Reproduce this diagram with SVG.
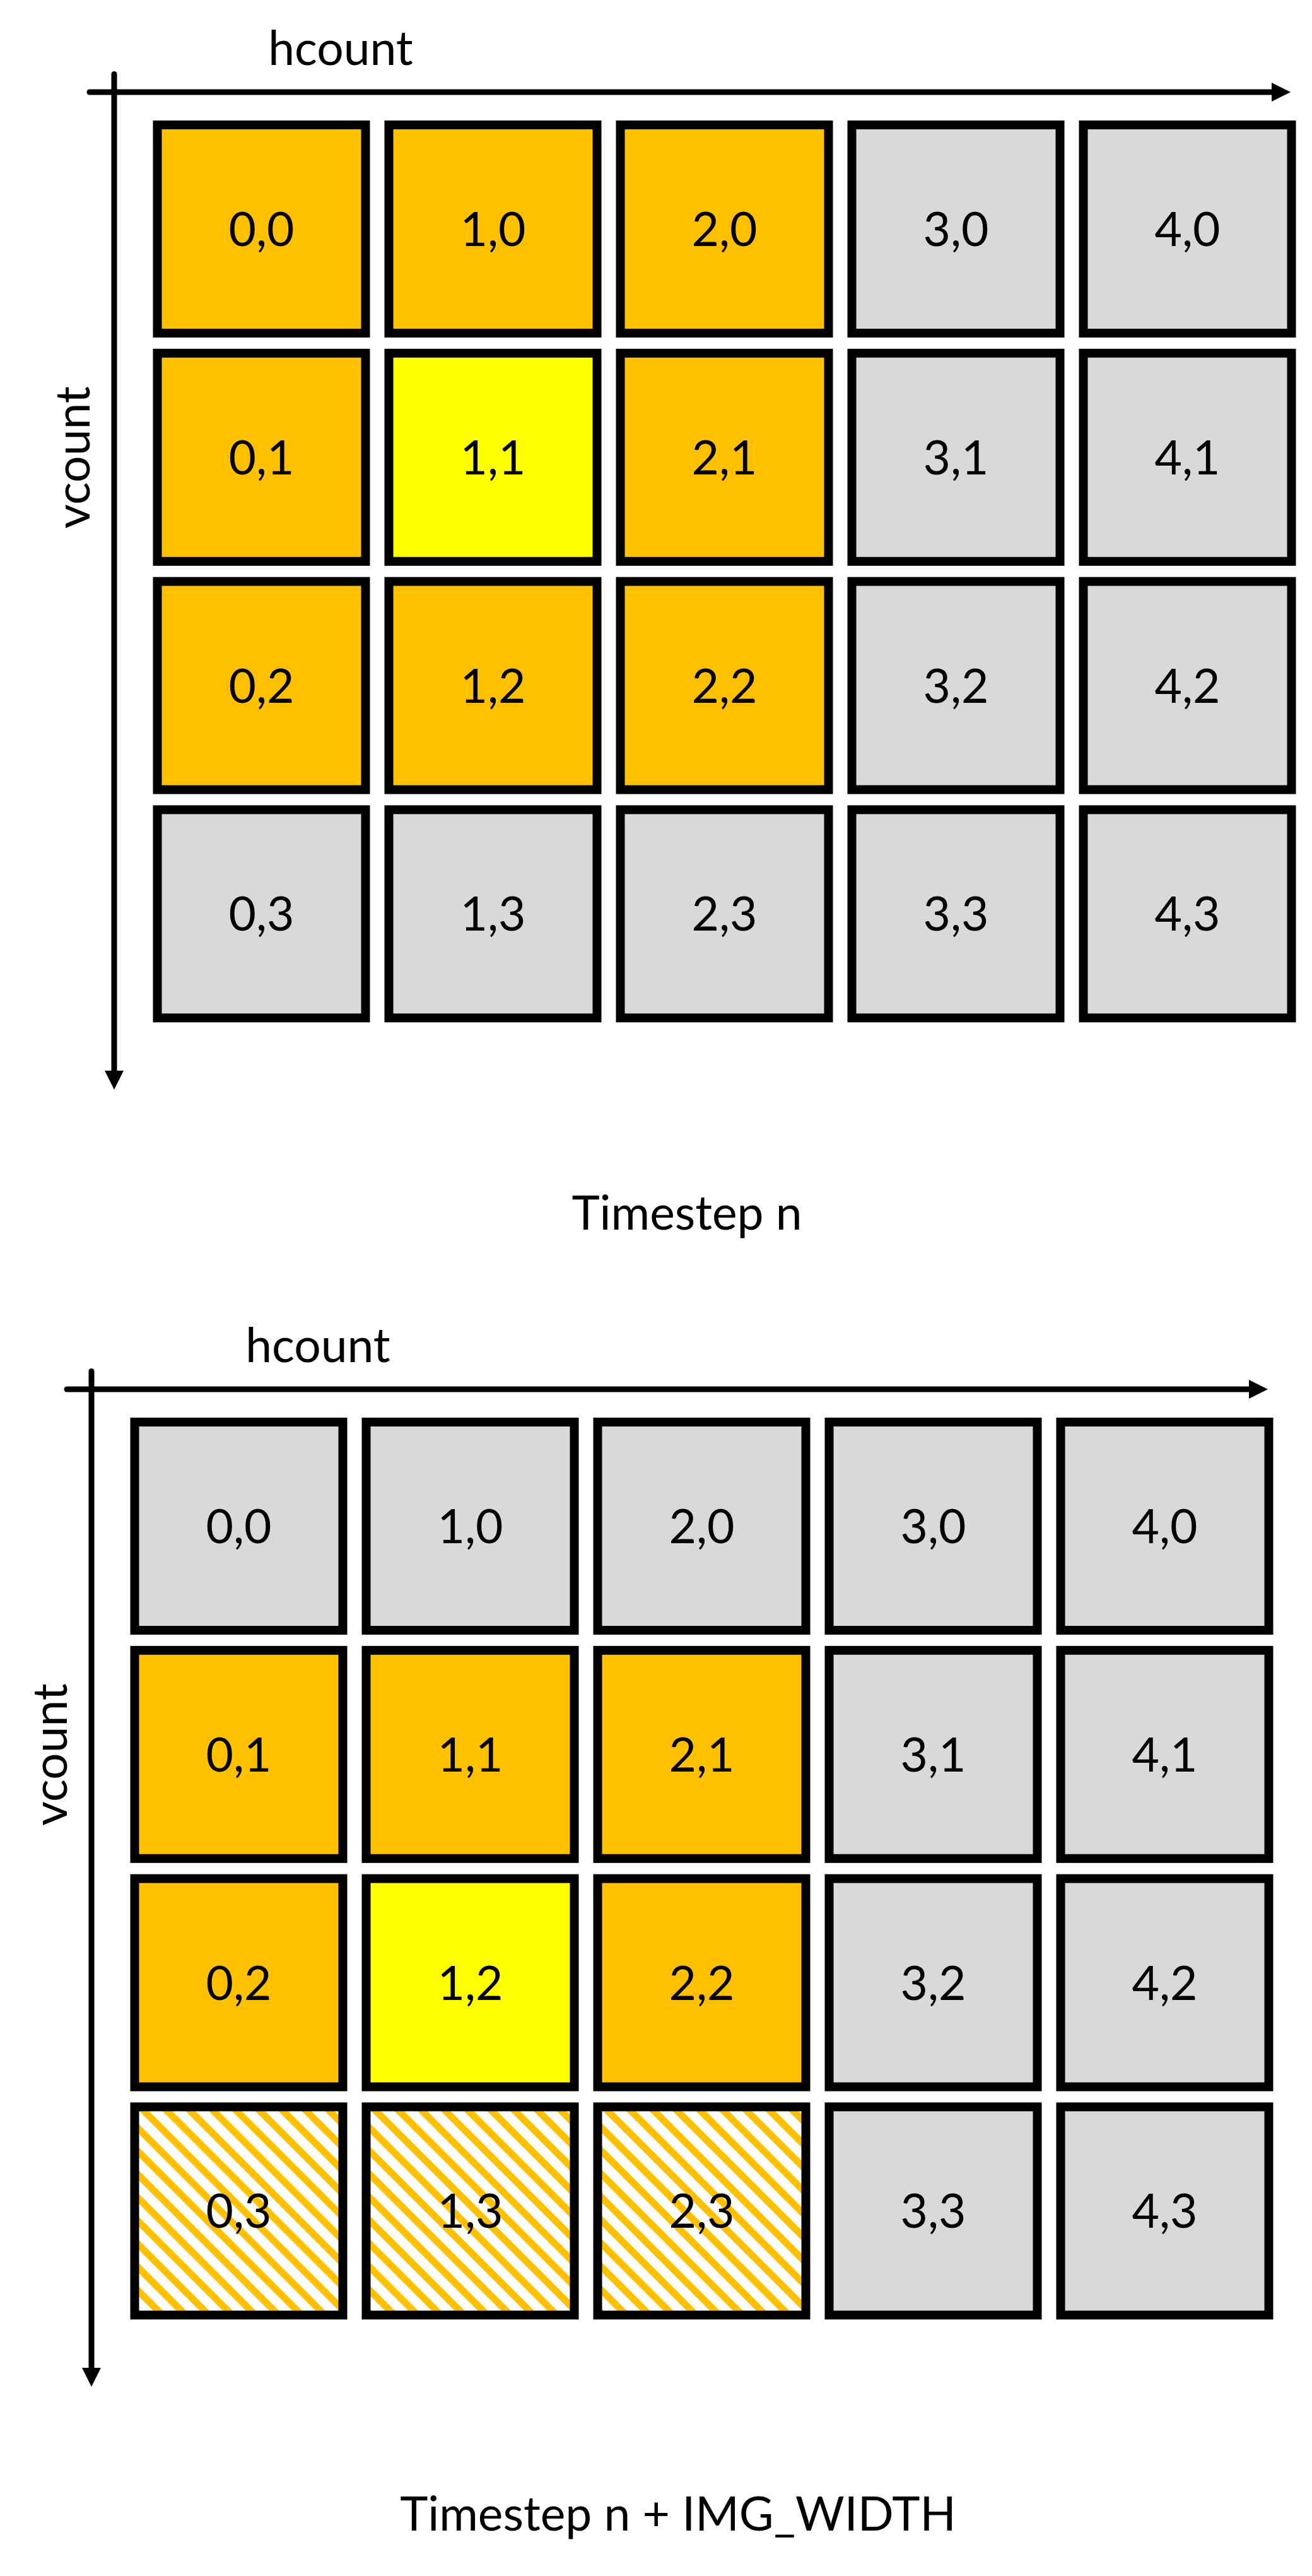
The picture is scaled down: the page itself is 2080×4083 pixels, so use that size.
<svg xmlns="http://www.w3.org/2000/svg" width="2080" height="4083" viewBox="0 0 2080 4083">
<defs>
<style>
.cell{stroke:#000;stroke-width:14}
.org{fill:#FFC000}
.yel{fill:#FFFF00}
.gry{fill:#D9D9D9}
.hat{fill:url(#hatch)}
.lbl{font-family:Lato,"Open Sans","Liberation Sans",sans-serif;font-size:75px;fill:#000;text-anchor:middle}
.axis{stroke:#000;stroke-width:9;stroke-linecap:round;fill:none;marker-end:url(#arrow)}
</style>
<marker id="arrow" viewBox="0 0 30 30" markerWidth="30" markerHeight="30" refX="0" refY="15" orient="auto" markerUnits="userSpaceOnUse">
<path d="M0,0 L30,15 L0,30 z" fill="#000"/>
</marker>
<pattern id="hatch" patternUnits="userSpaceOnUse" width="26" height="26" patternTransform="rotate(-45)">
<rect x="0" y="0" width="26" height="26" fill="#FFFFFF"/>
<rect x="0" y="0" width="11" height="26" fill="#FFC000"/>
</pattern>
</defs>
<rect x="0" y="0" width="2080" height="4083" fill="#FFFFFF"/>

<g id="connectors">
<line class="axis" x1="142" y1="146" x2="2016" y2="146"/>
<line class="axis" x1="181" y1="117.5" x2="181" y2="1697"/>
<line class="axis" x1="106" y1="2202" x2="1980" y2="2202"/>
<line class="axis" x1="145" y1="2173.5" x2="145" y2="3753"/>
</g>

<g id="labels-top">
<text id="hcount-top" class="lbl" x="540" y="103">hcount</text>
<text id="vcount-top" class="lbl" transform="translate(142,725) rotate(-90)">vcount</text>
<text id="caption-top" class="lbl" x="1089" y="1949">Timestep n</text>
</g>

<g id="grid-top">
<g id="t-0-0"><rect class="cell org" x="249.5" y="198" width="330" height="330"/><text class="lbl" x="414.5" y="390">0,0</text></g>
<g id="t-1-0"><rect class="cell org" x="616.5" y="198" width="330" height="330"/><text class="lbl" x="781.5" y="390">1,0</text></g>
<g id="t-2-0"><rect class="cell org" x="983.5" y="198" width="330" height="330"/><text class="lbl" x="1148.5" y="390">2,0</text></g>
<g id="t-3-0"><rect class="cell gry" x="1350.5" y="198" width="330" height="330"/><text class="lbl" x="1515.5" y="390">3,0</text></g>
<g id="t-4-0"><rect class="cell gry" x="1717.5" y="198" width="330" height="330"/><text class="lbl" x="1882.5" y="390">4,0</text></g>

<g id="t-0-1"><rect class="cell org" x="249.5" y="559.8" width="330" height="330"/><text class="lbl" x="414.5" y="751.8">0,1</text></g>
<g id="t-1-1"><rect class="cell yel" x="616.5" y="559.8" width="330" height="330"/><text class="lbl" x="781.5" y="751.8">1,1</text></g>
<g id="t-2-1"><rect class="cell org" x="983.5" y="559.8" width="330" height="330"/><text class="lbl" x="1148.5" y="751.8">2,1</text></g>
<g id="t-3-1"><rect class="cell gry" x="1350.5" y="559.8" width="330" height="330"/><text class="lbl" x="1515.5" y="751.8">3,1</text></g>
<g id="t-4-1"><rect class="cell gry" x="1717.5" y="559.8" width="330" height="330"/><text class="lbl" x="1882.5" y="751.8">4,1</text></g>

<g id="t-0-2"><rect class="cell org" x="249.5" y="921.6" width="330" height="330"/><text class="lbl" x="414.5" y="1113.6">0,2</text></g>
<g id="t-1-2"><rect class="cell org" x="616.5" y="921.6" width="330" height="330"/><text class="lbl" x="781.5" y="1113.6">1,2</text></g>
<g id="t-2-2"><rect class="cell org" x="983.5" y="921.6" width="330" height="330"/><text class="lbl" x="1148.5" y="1113.6">2,2</text></g>
<g id="t-3-2"><rect class="cell gry" x="1350.5" y="921.6" width="330" height="330"/><text class="lbl" x="1515.5" y="1113.6">3,2</text></g>
<g id="t-4-2"><rect class="cell gry" x="1717.5" y="921.6" width="330" height="330"/><text class="lbl" x="1882.5" y="1113.6">4,2</text></g>

<g id="t-0-3"><rect class="cell gry" x="249.5" y="1283.4" width="330" height="330"/><text class="lbl" x="414.5" y="1475.4">0,3</text></g>
<g id="t-1-3"><rect class="cell gry" x="616.5" y="1283.4" width="330" height="330"/><text class="lbl" x="781.5" y="1475.4">1,3</text></g>
<g id="t-2-3"><rect class="cell gry" x="983.5" y="1283.4" width="330" height="330"/><text class="lbl" x="1148.5" y="1475.4">2,3</text></g>
<g id="t-3-3"><rect class="cell gry" x="1350.5" y="1283.4" width="330" height="330"/><text class="lbl" x="1515.5" y="1475.4">3,3</text></g>
<g id="t-4-3"><rect class="cell gry" x="1717.5" y="1283.4" width="330" height="330"/><text class="lbl" x="1882.5" y="1475.4">4,3</text></g>
</g>

<g id="labels-bottom">
<text id="hcount-bottom" class="lbl" x="504" y="2159">hcount</text>
<text id="vcount-bottom" class="lbl" transform="translate(106,2781) rotate(-90)">vcount</text>
<text id="caption-bottom" class="lbl" x="1075" y="4011">Timestep n + IMG_WIDTH</text>
</g>

<g id="grid-bottom">
<g id="b-0-0"><rect class="cell gry" x="213.5" y="2254" width="330" height="330"/><text class="lbl" x="378.5" y="2446">0,0</text></g>
<g id="b-1-0"><rect class="cell gry" x="580.5" y="2254" width="330" height="330"/><text class="lbl" x="745.5" y="2446">1,0</text></g>
<g id="b-2-0"><rect class="cell gry" x="947.5" y="2254" width="330" height="330"/><text class="lbl" x="1112.5" y="2446">2,0</text></g>
<g id="b-3-0"><rect class="cell gry" x="1314.5" y="2254" width="330" height="330"/><text class="lbl" x="1479.5" y="2446">3,0</text></g>
<g id="b-4-0"><rect class="cell gry" x="1681.5" y="2254" width="330" height="330"/><text class="lbl" x="1846.5" y="2446">4,0</text></g>

<g id="b-0-1"><rect class="cell org" x="213.5" y="2615.8" width="330" height="330"/><text class="lbl" x="378.5" y="2807.8">0,1</text></g>
<g id="b-1-1"><rect class="cell org" x="580.5" y="2615.8" width="330" height="330"/><text class="lbl" x="745.5" y="2807.8">1,1</text></g>
<g id="b-2-1"><rect class="cell org" x="947.5" y="2615.8" width="330" height="330"/><text class="lbl" x="1112.5" y="2807.8">2,1</text></g>
<g id="b-3-1"><rect class="cell gry" x="1314.5" y="2615.8" width="330" height="330"/><text class="lbl" x="1479.5" y="2807.8">3,1</text></g>
<g id="b-4-1"><rect class="cell gry" x="1681.5" y="2615.8" width="330" height="330"/><text class="lbl" x="1846.5" y="2807.8">4,1</text></g>

<g id="b-0-2"><rect class="cell org" x="213.5" y="2977.6" width="330" height="330"/><text class="lbl" x="378.5" y="3169.6">0,2</text></g>
<g id="b-1-2"><rect class="cell yel" x="580.5" y="2977.6" width="330" height="330"/><text class="lbl" x="745.5" y="3169.6">1,2</text></g>
<g id="b-2-2"><rect class="cell org" x="947.5" y="2977.6" width="330" height="330"/><text class="lbl" x="1112.5" y="3169.6">2,2</text></g>
<g id="b-3-2"><rect class="cell gry" x="1314.5" y="2977.6" width="330" height="330"/><text class="lbl" x="1479.5" y="3169.6">3,2</text></g>
<g id="b-4-2"><rect class="cell gry" x="1681.5" y="2977.6" width="330" height="330"/><text class="lbl" x="1846.5" y="3169.6">4,2</text></g>

<g id="b-0-3"><rect class="cell hat" x="213.5" y="3339.4" width="330" height="330"/><text class="lbl" x="378.5" y="3531.4">0,3</text></g>
<g id="b-1-3"><rect class="cell hat" x="580.5" y="3339.4" width="330" height="330"/><text class="lbl" x="745.5" y="3531.4">1,3</text></g>
<g id="b-2-3"><rect class="cell hat" x="947.5" y="3339.4" width="330" height="330"/><text class="lbl" x="1112.5" y="3531.4">2,3</text></g>
<g id="b-3-3"><rect class="cell gry" x="1314.5" y="3339.4" width="330" height="330"/><text class="lbl" x="1479.5" y="3531.4">3,3</text></g>
<g id="b-4-3"><rect class="cell gry" x="1681.5" y="3339.4" width="330" height="330"/><text class="lbl" x="1846.5" y="3531.4">4,3</text></g>
</g>
</svg>
